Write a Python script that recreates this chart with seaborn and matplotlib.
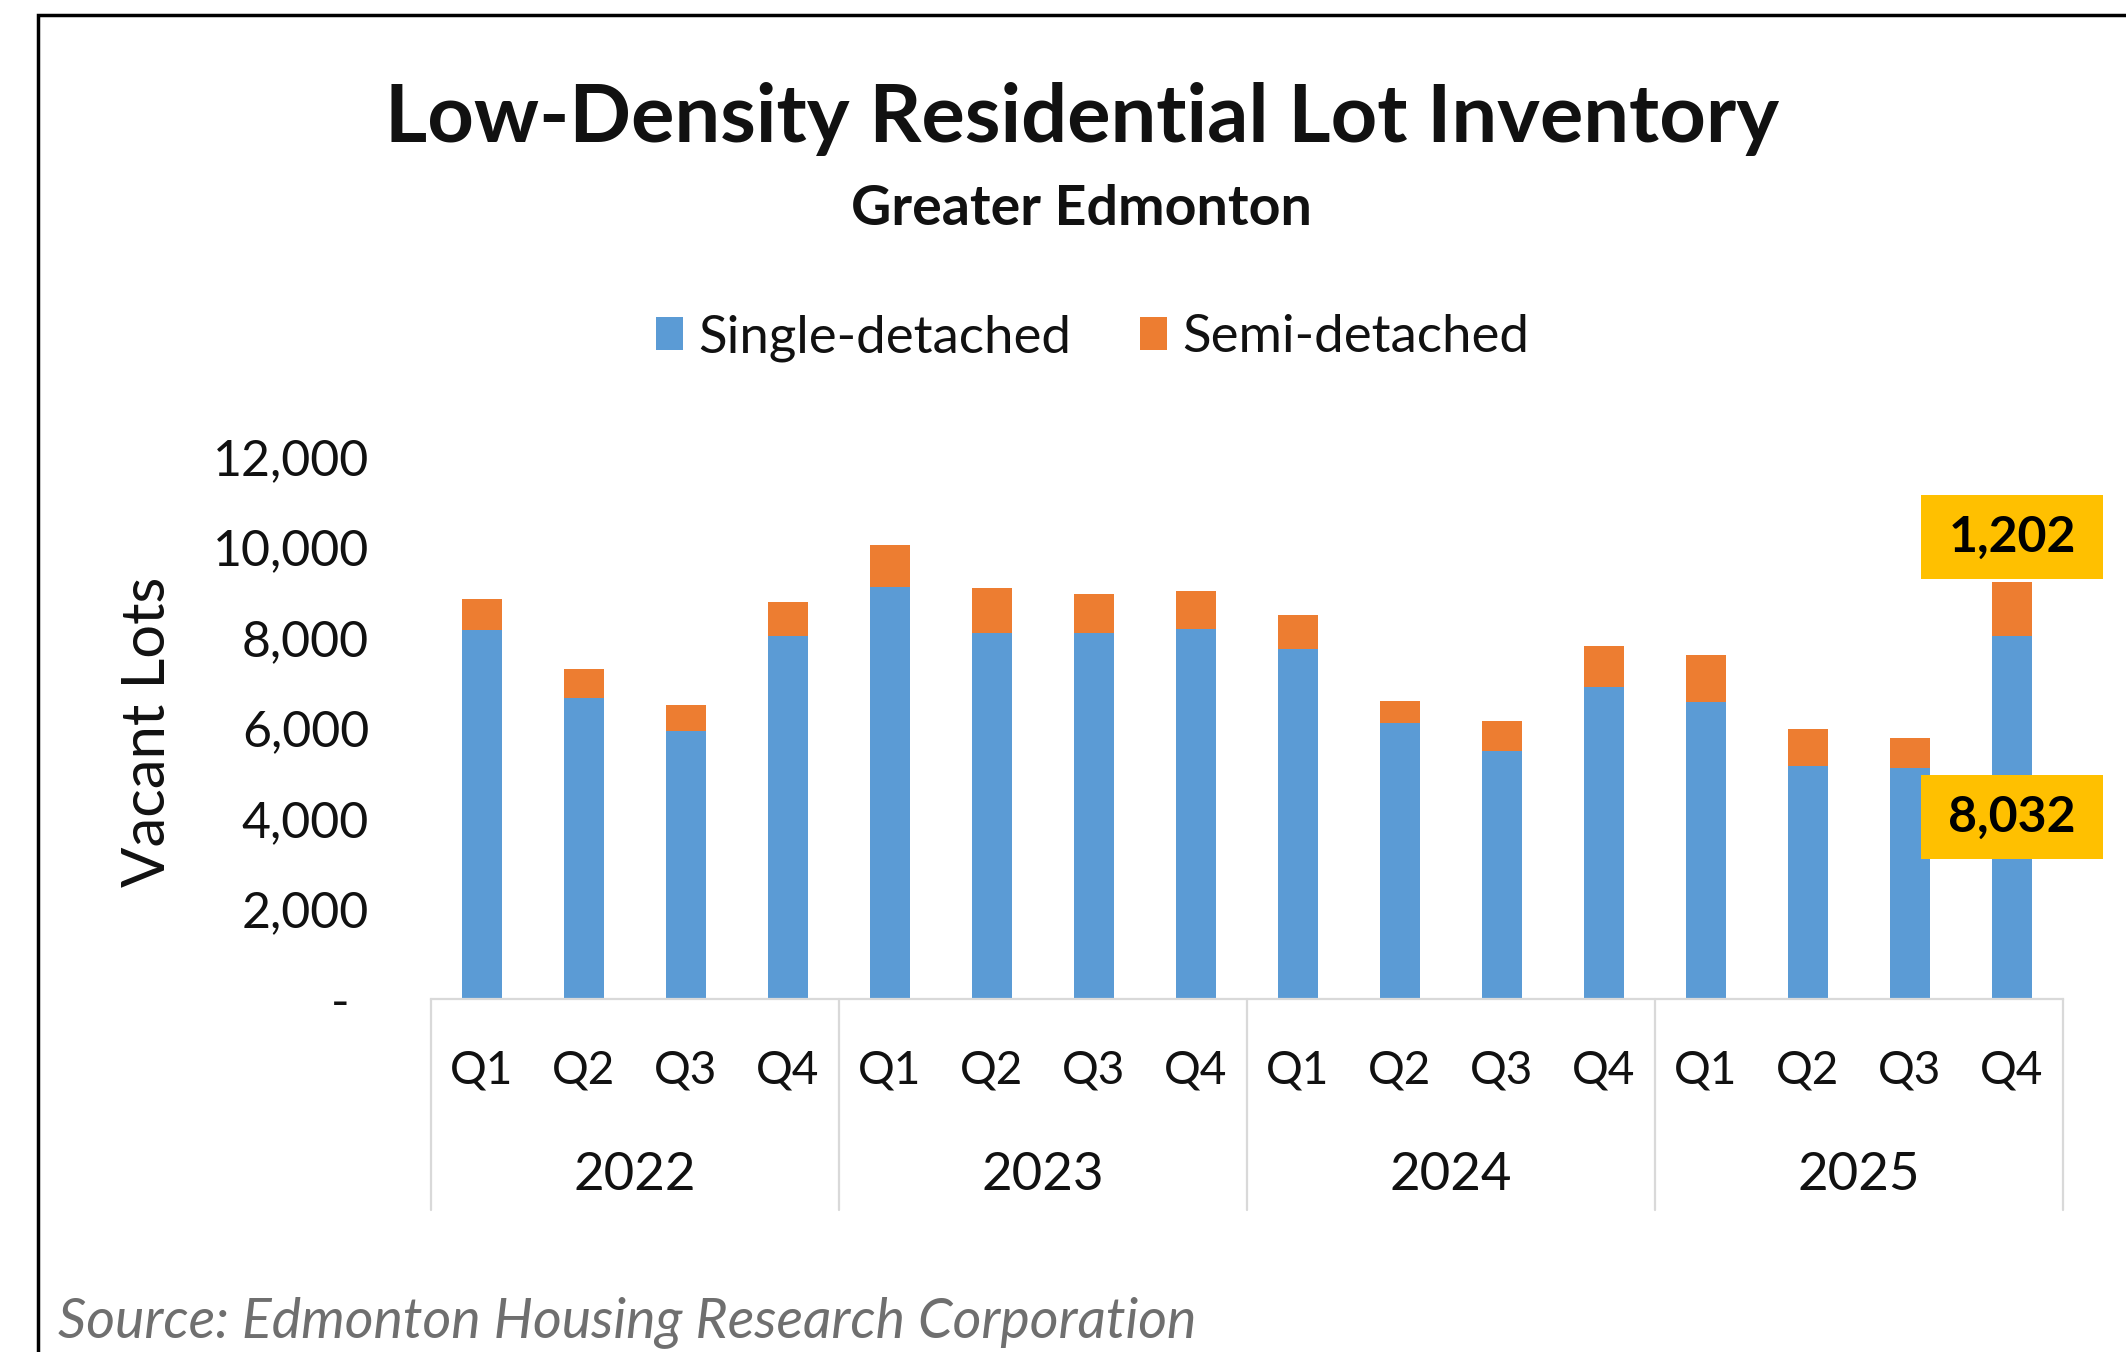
import matplotlib
matplotlib.use("Agg")
import matplotlib.pyplot as plt
from matplotlib.patches import Patch, Rectangle
import pandas as pd
import seaborn as sns

# Quarterly vacant lot inventory, Greater Edmonton
years = ["2022", "2023", "2024", "2025"]
quarters = ["Q1", "Q2", "Q3", "Q4"]
single_detached = [8170, 6660, 5930, 8030, 9110, 8100, 8090, 8180,
                   7750, 6100, 5490, 6900, 6560, 5150, 5120, 8032]
semi_detached = [680, 640, 570, 750, 930, 1000, 870, 850,
                 740, 500, 670, 900, 1060, 830, 660, 1202]
y_ticks = [0, 2000, 4000, 6000, 8000, 10000, 12000]
y_tick_labels = ["- \u2009", "2,000", "4,000", "6,000", "8,000", "10,000", "12,000"]

BLUE = "#5B9BD5"
ORANGE = "#ED7D31"
GOLD = "#FFC000"
GRID = "#D9D9D9"

sns.set_theme(style="white")
plt.rcParams["font.family"] = ["Lato", "DejaVu Sans"]

periods = [f"{y} {q}" for y in years for q in quarters]
df = pd.DataFrame({"period": periods,
                   "single": single_detached,
                   "semi": semi_detached})
df["total"] = df["single"] + df["semi"]

W, H = 2126, 1352
fig = plt.figure(figsize=(W / 100, H / 100), dpi=100)
fig.patch.set_facecolor("white")
ax = fig.add_axes([431 / W, 1 - 999 / H, (2063 - 431) / W, (999 - 456.5) / H])

# stacked columns: full height in orange, single-detached drawn over it
sns.barplot(data=df, x="period", y="total", order=periods, color=ORANGE,
            saturation=1, width=0.4, errorbar=None, linewidth=0, ax=ax)
sns.barplot(data=df, x="period", y="single", order=periods, color=BLUE,
            saturation=1, width=0.4, errorbar=None, linewidth=0, ax=ax)

ax.set_ylim(0, 12000)
ax.set_xlim(-0.5, len(periods) - 0.5)
ax.set_yticks(y_ticks, y_tick_labels)
ax.set_xticks(range(len(periods)), [""] * len(periods))
ax.set_xlabel("")
ax.set_ylabel("")
ax.tick_params(axis="both", length=0)
ax.tick_params(axis="y", pad=44.6, labelsize=36, labelcolor="#111111")
for side in ["left", "right", "top"]:
    ax.spines[side].set_visible(False)
ax.spines["bottom"].set_color(GRID)
ax.spines["bottom"].set_linewidth(1.6)

# two-level category axis: quarters, then years, with year separators
xt = ax.get_xaxis_transform()
axis_depth = -(1210 - 999) / (999 - 456.5)
q_base = -(1084 - 999) / (999 - 456.5)
y_base = -(1190 - 999) / (999 - 456.5)
nq = len(quarters)
for i, p in enumerate(periods):
    ax.text(i, q_base, quarters[i % nq], transform=xt, ha="center",
            va="baseline", fontsize=33, color="#111111")
for k, yr in enumerate(years):
    ax.text(k * nq + (nq - 1) / 2, y_base, yr, transform=xt, ha="center",
            va="baseline", fontsize=38, color="#111111")
for k in range(len(years) + 1):
    b = k * nq - 0.5
    ax.plot([b, b], [0, axis_depth], transform=xt, clip_on=False,
            color=GRID, lw=1.6)

# highlighted values for the latest quarter
last = len(periods) - 1
labels = [
    (f"{single_detached[last]:,}", (last, single_detached[last] / 2), (0, 0)),
    (f"{semi_detached[last]:,}", (last, single_detached[last] + semi_detached[last]), (0, 32)),
]
texts = []
for s, xy, off in labels:
    t = ax.annotate(s, xy=xy, xytext=off, textcoords="offset points",
                    ha="center", va="center", fontsize=36, fontweight="bold",
                    color="black", zorder=7, annotation_clip=False)
    texts.append(t)

fig.canvas.draw()
renderer = fig.canvas.get_renderer()
inv = ax.transAxes.inverted()
for t in texts:
    bb = t.get_window_extent(renderer)
    cx = (bb.x0 + bb.x1) / 2
    cy = (bb.y0 + bb.y1) / 2
    bw, bh = 182, 84
    (x0, y0) = inv.transform((cx - bw / 2, cy - bh / 2))
    (x1, y1) = inv.transform((cx + bw / 2, cy + bh / 2))
    ax.add_patch(Rectangle((x0, y0), x1 - x0, y1 - y0,
                           transform=ax.transAxes, facecolor=GOLD,
                           edgecolor="none", zorder=6, clip_on=False))

# titles, axis title, legend, source
fig.text(1082 / W, 1 - 141.7 / H, "Low-Density Residential Lot Inventory",
         ha="center", va="baseline", fontsize=58.5, fontweight="bold", color="#111111")
fig.text(1081 / W, 1 - 225 / H, "Greater Edmonton", ha="center", va="baseline",
         fontsize=40, fontweight="bold", color="#111111")
fig.text(148 / W, 1 - 732 / H, "Vacant Lots", rotation=90, ha="center",
         va="center", fontsize=43, color="#111111")

handles = [Patch(facecolor=BLUE, edgecolor="none", label="Single-detached"),
           Patch(facecolor=ORANGE, edgecolor="none", label="Semi-detached")]
fig.legend(handles=handles, loc="center", bbox_to_anchor=(1093 / W, 1 - 338 / H),
           ncol=2, frameon=False, fontsize=38, handlelength=0.5,
           handleheight=0.6, handletextpad=0.3, columnspacing=1.3,
           labelcolor="#111111")

fig.text(58 / W, 1 - 1336.7 / H, "Source: Edmonton Housing Research Corporation",
         ha="left", va="baseline", fontsize=40, style="italic", color="#6F6F6F")

# outer frame (top and left edges visible)
fig.patches.append(Rectangle((38 / W, -0.2), 1.2, 1.2 - 15 / H,
                             transform=fig.transFigure, fill=False,
                             edgecolor="black", linewidth=2.5))

fig.savefig("out.png", dpi=100, facecolor="white")
